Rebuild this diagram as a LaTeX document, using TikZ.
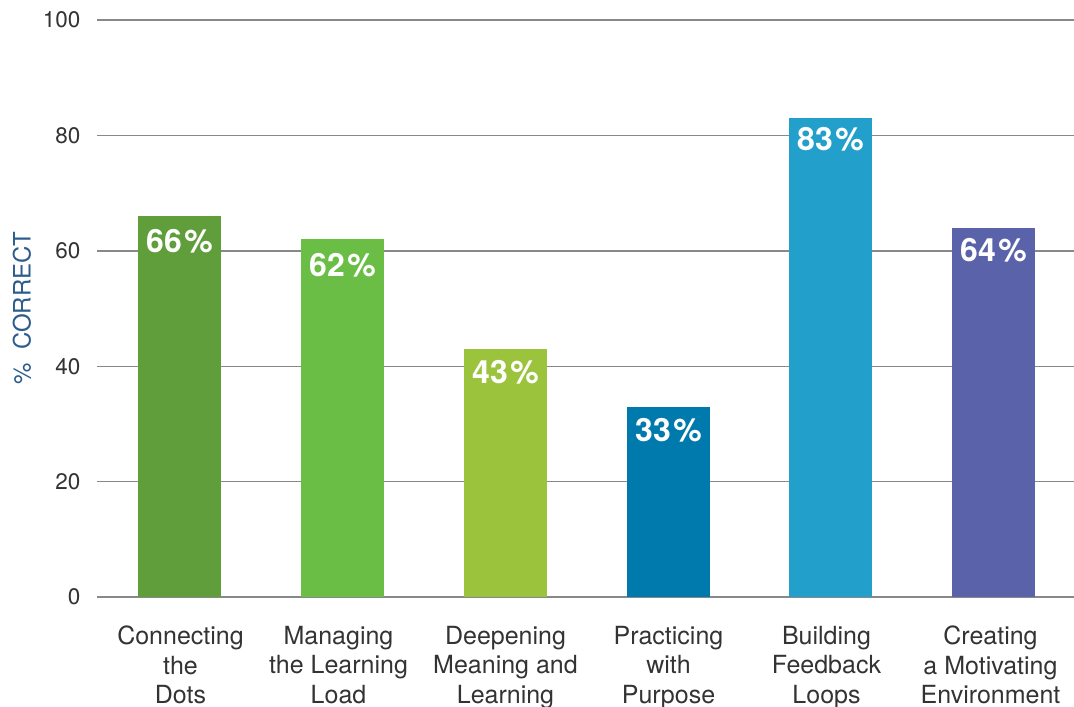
\documentclass[tikz,border=0pt]{standalone}
\usepackage{fontspec}
\setmainfont{TeX Gyre Heros}
\definecolor{gridc}{HTML}{888888}
\definecolor{txtc}{HTML}{333333}
\definecolor{axc}{HTML}{2C5C8C}
\definecolor{cA}{HTML}{5F9E3A}
\definecolor{cB}{HTML}{6ABD45}
\definecolor{cC}{HTML}{9BC43C}
\definecolor{cD}{HTML}{0079AD}
\definecolor{cE}{HTML}{239FCB}
\definecolor{cF}{HTML}{5A63AA}
\tikzset{
  gridline/.style={draw=gridc, line width=1.4pt},
  ticklab/.style={anchor=east, inner sep=0pt, text=txtc, font=\fontsize{22.5}{26}\selectfont},
  catlab/.style={anchor=north, inner sep=0pt, align=center, text=txtc, font=\fontsize{25}{29.5}\selectfont},
  vallab/.style={inner sep=0pt, text=white, font=\fontsize{32}{36}\selectfont\bfseries},
}
\begin{document}
\begin{tikzpicture}[x=1pt,y=-1pt]
\useasboundingbox (0,0) rectangle (1074,707);
% grid lines and ticks
\foreach \v/\n in {0/g0,20/g20,40/g40,60/g60,80/g80,100/g100}{
  \coordinate (\n L) at (97,{597-5.77*\v});
  \coordinate (\n R) at (1074,{597-5.77*\v});
  \draw[gridline] (\n L) -- (\n R);
  \node[ticklab] (\n t) at (80.5,{597-5.77*\v}) {\v};
}
% bars
\foreach \c/\v/\col/\n/\o in {179.5/66/cA/b1/25.5,342.5/62/cB/b2/25.5,505.5/43/cC/b3/23.5,668.5/33/cD/b4/24,830.5/83/cE/b5/21,993.5/64/cF/b6/23}{
  \fill[\col] ({\c-41.5},597) rectangle ({\c+41.5},{597-5.77*\v});
  \node[vallab] (\n v) at (\c,{597-5.77*\v+\o}) {\v\kern2.5pt\%};
}
\node[catlab] (l1) at (180.5,626) {Connecting\\the\\Dots};
\node[catlab] (l2) at (338.5,626) {Managing\\the Learning\\Load};
\node[catlab] (l3) at (505.5,626) {Deepening\\Meaning and\\Learning};
\node[catlab] (l4) at (668.5,626) {Practicing\\with\\Purpose};
\node[catlab] (l5) at (826.5,626) {Building\\Feedback\\Loops};
\node[catlab] (l6) at (990.5,626) {Creating\\a Motivating\\Environment};
\node[rotate=90, inner sep=0pt, text=axc, font=\fontsize{24}{28}\selectfont] (ylab) at (22,308) {\%\ \ CORRECT};
\end{tikzpicture}
\end{document}
